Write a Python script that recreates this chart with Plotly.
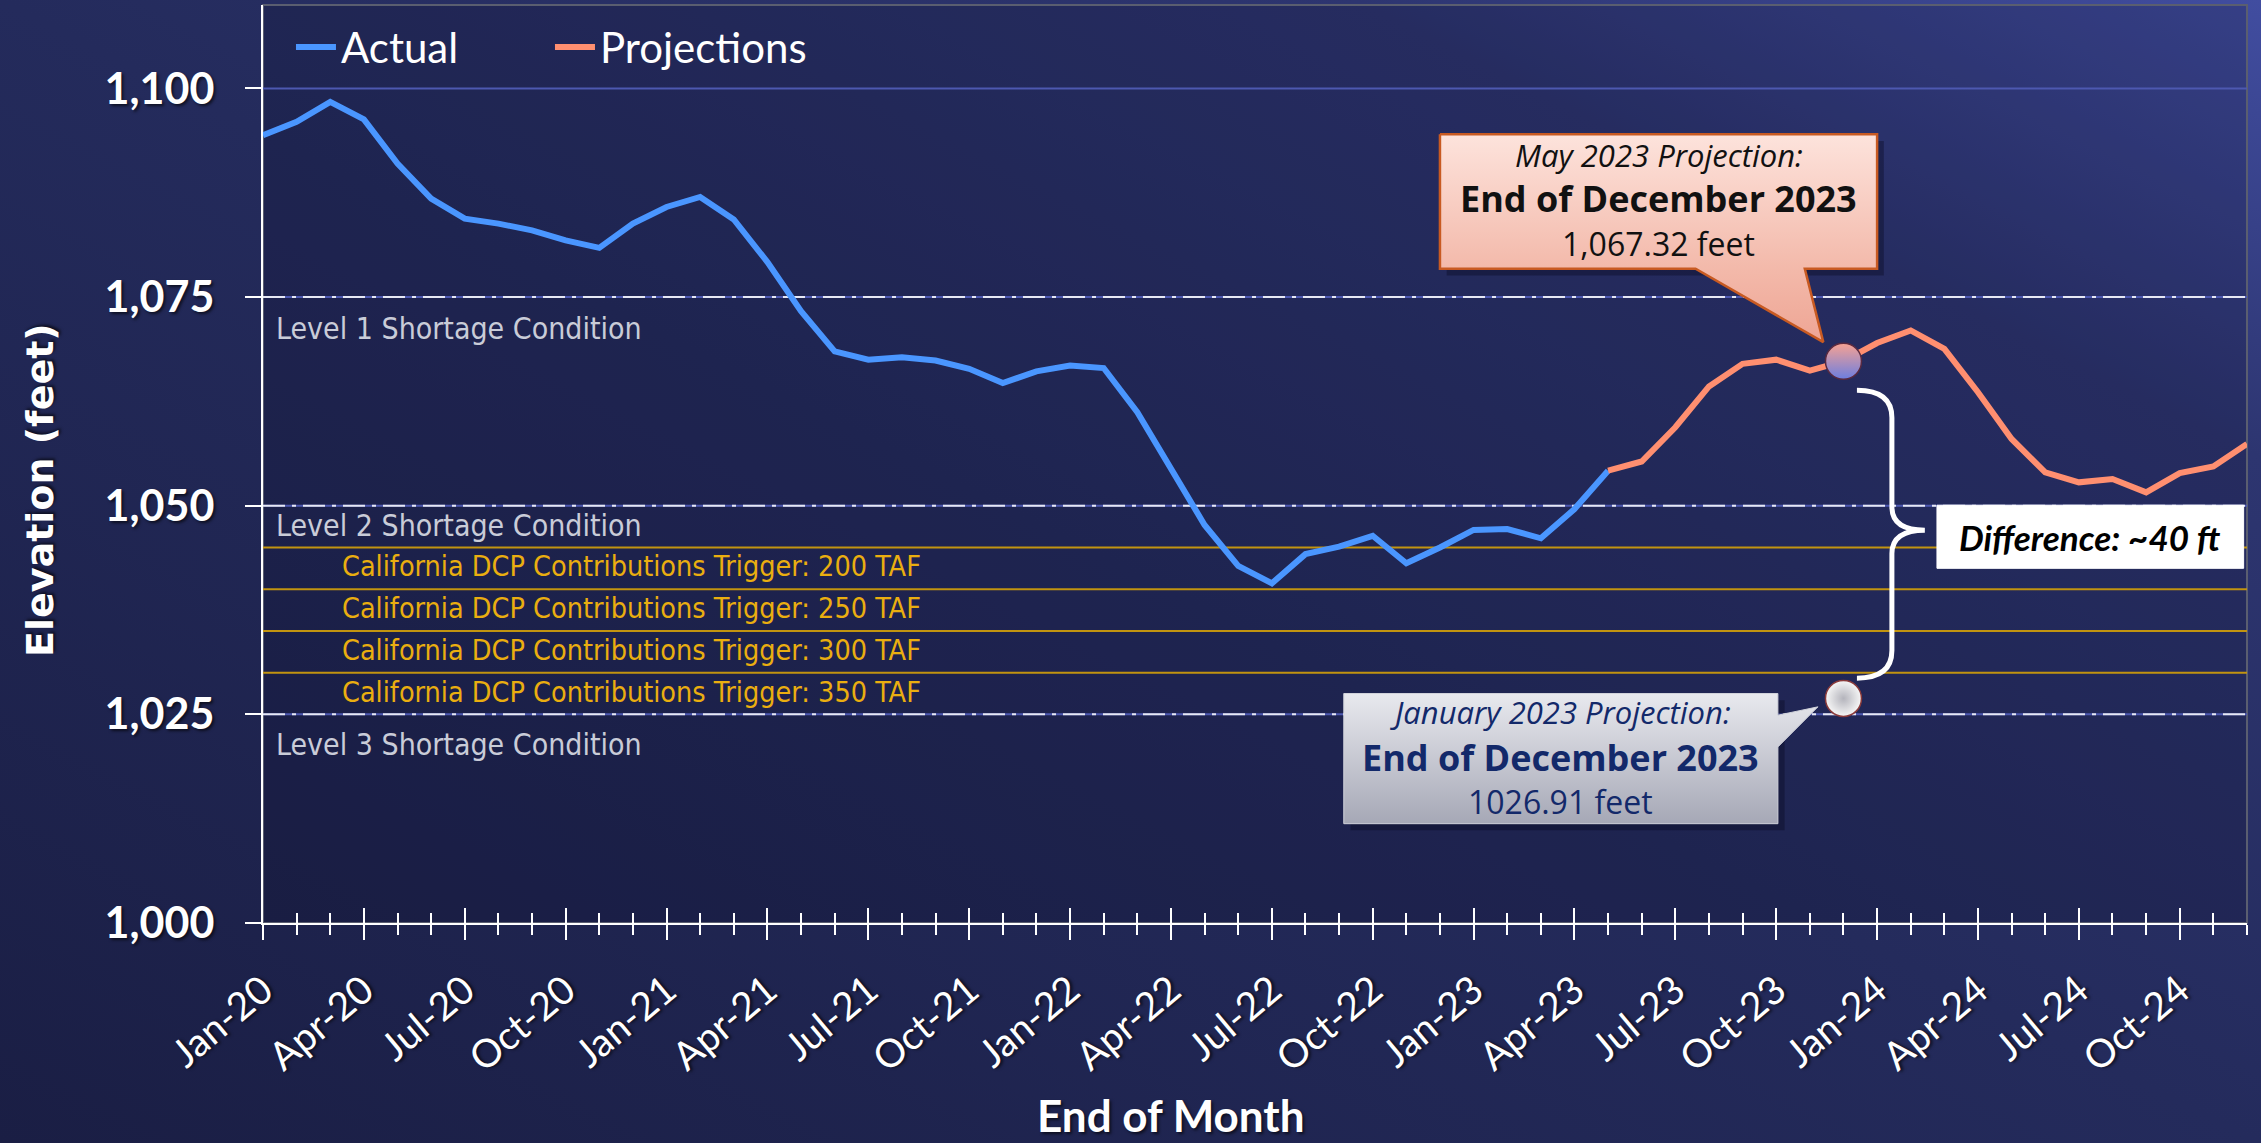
import base64
import pandas as pd
import plotly.graph_objects as go

# ---------------- data ----------------
months = list(pd.date_range("2020-01-01", periods=60, freq="MS").strftime("%b-%y"))
x_idx = list(range(len(months)))

actual = [1094.4, 1096.0, 1098.4, 1096.3, 1091.0, 1086.8, 1084.4, 1083.8, 1083.0, 1081.8,
          1080.9, 1083.8, 1085.8, 1087.0, 1084.3, 1079.2, 1073.3, 1068.5, 1067.5, 1067.8,
          1067.4, 1066.4, 1064.7, 1066.1, 1066.8, 1066.5, 1061.2, 1054.6, 1047.7, 1042.8,
          1040.7, 1044.2, 1045.1, 1046.4, 1043.1, 1045.0, 1047.1, 1047.2, 1046.1, 1049.6,
          1054.2]
proj_start = "May-23"
projections = [1054.2, 1055.3, 1059.4, 1064.3, 1067.0, 1067.5, 1066.2, 1067.32, 1069.5, 1071.0,
               1068.8, 1063.6, 1058.0, 1054.0, 1052.8, 1053.2, 1051.6, 1053.9, 1054.7, 1057.4]

callout_month = "Dec-23"
may_proj_value = 1067.32
jan_proj_value = 1026.91

grid_levels = [1025, 1050, 1075, 1100]
shortage_levels = [1075, 1050, 1025]
shortage_labels = ["Level 1 Shortage Condition", "Level 2 Shortage Condition", "Level 3 Shortage Condition"]
shortage_label_y = [1071.2, 1047.6, 1021.4]
dcp_levels = [1045, 1040, 1035, 1030]
dcp_labels = ["California DCP Contributions Trigger: 200 TAF",
              "California DCP Contributions Trigger: 250 TAF",
              "California DCP Contributions Trigger: 300 TAF",
              "California DCP Contributions Trigger: 350 TAF"]

may_callout_lines = ["May 2023 Projection:", "End of December 2023", "1,067.32 feet"]
jan_callout_lines = ["January 2023 Projection:", "End of December 2023", "1026.91 feet"]

tick_idx = x_idx[::3]
tick_text = months[::3]

# ---------------- layout geometry ----------------
W, H = 2261, 1143
ML, MR, MT, MB = 263, 14, 5, 220
PW, PH = W - ML - MR, H - MT - MB

fig = go.Figure()

# background gradient (svg)
svg = (f"<svg xmlns='http://www.w3.org/2000/svg' width='{W}' height='{H}' preserveAspectRatio='none'>"
       "<defs><linearGradient id='g' x1='0' y1='1' x2='1' y2='0'>"
       "<stop offset='0' stop-color='#1a1e44'/>"
       "<stop offset='0.5' stop-color='#242b5c'/>"
       "<stop offset='0.8' stop-color='#2d3570'/>"
       "<stop offset='1' stop-color='#414da0'/>"
       "</linearGradient></defs><rect width='100%' height='100%' fill='url(#g)'/></svg>")
bg_uri = "data:image/svg+xml;base64," + base64.b64encode(svg.encode()).decode()

# ---------------- traces ----------------
i0 = months.index(proj_start)
fig.add_trace(go.Scatter(x=x_idx[:len(actual)], y=actual, mode="lines", name="Actual",
                         line=dict(color="#4a96ff", width=6), hoverinfo="skip"))
fig.add_trace(go.Scatter(x=x_idx[i0:i0 + len(projections)], y=projections, mode="lines",
                         name="Projections", line=dict(color="#ff8f70", width=6), hoverinfo="skip"))

# inside-tick helper axis trace
fig.add_trace(go.Scatter(x=[None], y=[None], xaxis="x2", showlegend=False, hoverinfo="skip"))

# callout boxes (annotation decoration)
b1 = dict(x0=35.0, x1=48.0, yt=1094.5, yb=1078.4, pl=42.6, pr=45.85, tx=46.4, ty=1069.6)
b2 = dict(x0=32.14, x1=45.05, yt=1027.5, yb=1011.9, pt=1024.9, pb=1021.1, tx=46.24, ty=1025.9)

for b in (b1, b2):
    fig.add_trace(go.Scatter(
        x=[b["x0"] + 0.2, b["x1"] + 0.2, b["x1"] + 0.2, b["x0"] + 0.2, b["x0"] + 0.2],
        y=[b["yt"] - 0.8, b["yt"] - 0.8, b["yb"] - 0.8, b["yb"] - 0.8, b["yt"] - 0.8],
        fill="toself", fillcolor="rgba(5,6,25,0.35)", line=dict(width=0), mode="lines",
        showlegend=False, hoverinfo="skip"))

fig.add_trace(go.Scatter(
    x=[b1["x0"], b1["x1"], b1["x1"], b1["pr"], b1["tx"], b1["pl"], b1["x0"], b1["x0"]],
    y=[b1["yt"], b1["yt"], b1["yb"], b1["yb"], b1["ty"], b1["yb"], b1["yb"], b1["yt"]],
    fill="toself", mode="lines", line=dict(color="#c85a22", width=2.5),
    fillgradient=dict(type="vertical", colorscale=[[0, "#eea594"], [0.35, "#f3b9aa"], [1, "#fde3dc"]]),
    showlegend=False, hoverinfo="skip"))
fig.add_trace(go.Scatter(
    x=[b2["x0"], b2["x1"], b2["x1"], b2["tx"], b2["x1"], b2["x1"], b2["x0"], b2["x0"]],
    y=[b2["yt"], b2["yt"], b2["pt"], b2["ty"], b2["pb"], b2["yb"], b2["yb"], b2["yt"]],
    fill="toself", mode="lines", line=dict(color="#d0d2da", width=1),
    fillgradient=dict(type="vertical", colorscale=[[0, "#a6a8b6"], [1, "#e8e9ee"]]),
    showlegend=False, hoverinfo="skip"))

# Dec-23 spheres
xc = months.index(callout_month)
fig.add_trace(go.Scatter(x=[xc], y=[may_proj_value], mode="markers", showlegend=False, hoverinfo="skip",
                         marker=dict(size=36, color="#f8a292",
                                     gradient=dict(type="vertical", color="#6c7ee0"),
                                     line=dict(color="#5a2a40", width=1.5))))
fig.add_trace(go.Scatter(x=[xc], y=[jan_proj_value], mode="markers", showlegend=False, hoverinfo="skip",
                         marker=dict(size=36, color="#f6f6f6",
                                     gradient=dict(type="radial", color="#b4b4bc"),
                                     line=dict(color="#8a3a3a", width=1.5))))

# ---------------- shapes ----------------
shapes = []
shapes.append(dict(type="rect", xref="paper", yref="paper", x0=0, x1=1, y0=0, y1=1, layer="below",
                   fillcolor="rgba(8,10,36,0.20)", line=dict(color="#5a5e70", width=2)))
for lv in grid_levels:
    shapes.append(dict(type="line", xref="x domain", yref="y", x0=0, x1=1, y0=lv, y1=lv,
                       layer="below", line=dict(color="#4d58b0", width=2)))
for lv in shortage_levels:
    shapes.append(dict(type="line", xref="x domain", yref="y", x0=0, x1=1, y0=lv, y1=lv,
                       layer="below", line=dict(color="#e6e8f4", width=2, dash="22px,7px,4px,7px")))
for lv in dcp_levels:
    shapes.append(dict(type="line", xref="x domain", yref="y", x0=0, x1=1, y0=lv, y1=lv,
                       layer="below", line=dict(color="#c29410", width=2)))
# curly brace
bx0, bxm, bxt = 47.4, 48.44, 49.42
byt, bym, byb = 1063.83, 1047.07, 1029.34
brace = (f"M {bx0},{byt} Q {bxm},{byt} {bxm},{byt-3.3} L {bxm},{bym+2.8} "
         f"Q {bxm},{bym} {bxt},{bym} Q {bxm},{bym} {bxm},{bym-2.8} L {bxm},{byb+3.3} "
         f"Q {bxm},{byb} {bx0},{byb}")
shapes.append(dict(type="path", xref="x", yref="y", path=brace, layer="above",
                   line=dict(color="white", width=5)))
# difference box
shapes.append(dict(type="rect", xref="x", yref="y", x0=49.78, x1=58.9, y0=1042.5, y1=1050.06,
                   layer="above", fillcolor="white", line=dict(color="white", width=1)))

# ---------------- annotations ----------------
ann = []
narrow = "Liberation Sans Narrow, Arial Narrow, DejaVu Sans Condensed, Liberation Sans"
for lab, yy in zip(shortage_labels, shortage_label_y):
    ann.append(dict(x=0.33, y=yy, xref="x", yref="y", text=lab, showarrow=False, xanchor="left",
                    yanchor="middle", font=dict(family=narrow, size=30, color="#c9ccd8")))
for lv, lab in zip(dcp_levels, dcp_labels):
    ann.append(dict(x=2.29, y=lv, xref="x", yref="y", text=lab, showarrow=False, xanchor="left",
                    yanchor="top", yshift=-1, font=dict(family=narrow, size=28.5, color="#eaae10")))

seg = "Open Sans, Noto Sans, sans-serif"
line_styles = [dict(size=31, style="italic", weight="normal"),
               dict(size=36, style="normal", weight="bold"),
               dict(size=32, style="normal", weight="normal")]
may_line_y = [1092.0, 1086.76, 1081.37]
jan_line_y = [1025.3, 1019.89, 1014.5]
for txt, yy, st in zip(may_callout_lines, may_line_y, line_styles):
    ann.append(dict(x=(b1["x0"] + b1["x1"]) / 2, y=yy, xref="x", yref="y", showarrow=False,
                    text=txt, borderpad=0,
                    font=dict(family=seg, color="#111111", **st)))
for txt, yy, st in zip(jan_callout_lines, jan_line_y, line_styles):
    ann.append(dict(x=(b2["x0"] + b2["x1"]) / 2, y=yy, xref="x", yref="y", showarrow=False,
                    text=txt, borderpad=0,
                    font=dict(family=seg, color="#13296a", **st)))
ann.append(dict(x=(49.78 + 58.9) / 2, y=1046.3, xref="x", yref="y", showarrow=False,
                text="<b><i>Difference: ~40 ft</i></b>",
                font=dict(family="Lato, Open Sans, sans-serif", size=35, color="black")))
# axis titles
ann.append(dict(x=(40 - ML) / PW, y=(H - MB - 490) / PH, xref="paper", yref="paper", showarrow=False,
                xanchor="center", yanchor="middle",
                text="<b>Elevation (feet)</b>", textangle=-90,
                font=dict(family="DejaVu Sans, Verdana, sans-serif", size=38, color="white",
                          shadow="2px 2px 3px rgba(0,0,0,0.6)")))
ann.append(dict(x=(1171 - ML) / PW, y=-MB / PH, xref="paper", yref="paper",
                showarrow=False, xanchor="center", yanchor="bottom", text="<b>End of Month</b>",
                font=dict(family="Lato, sans-serif", size=44, color="white",
                          shadow="2px 2px 3px rgba(0,0,0,0.6)")))

# ---------------- layout ----------------
tick_font = dict(family="Lato, sans-serif", size=39, color="white", shadow="2px 2px 3px rgba(0,0,0,0.6)")
fig.update_layout(
    width=W, height=H, autosize=False,
    margin=dict(l=ML, r=MR, t=MT, b=MB, pad=0),
    paper_bgcolor="#232a5a", plot_bgcolor="rgba(0,0,0,0)",
    images=[dict(source=bg_uri, xref="paper", yref="paper", x=-ML / PW, y=1 + MT / PH,
                 sizex=W / PW, sizey=H / PH, sizing="stretch", layer="below",
                 xanchor="left", yanchor="top")],
    shapes=shapes, annotations=ann,
    showlegend=True,
    legend=dict(orientation="h", x=0.0141, y=0.991, xanchor="left", yanchor="top",
                bgcolor="rgba(0,0,0,0)", font=dict(family="Lato, sans-serif", size=42, color="white"),
                itemwidth=40, entrywidth=204, tracegroupgap=0),
    xaxis=dict(range=[0, len(months) - 1], tickmode="array", tickvals=tick_idx, ticktext=tick_text,
               tickangle=-40, tickfont=tick_font, ticks="outside", ticklen=15, tickwidth=2,
               tickcolor="white", showline=True, linecolor="white", linewidth=2, showgrid=False,
               zeroline=False, ticklabelstandoff=12,
               minor=dict(dtick=1, tick0=0, ticks="outside", ticklen=10, tickwidth=2, tickcolor="white")),
    xaxis2=dict(range=[0, len(months) - 1], overlaying="x", anchor="y", side="bottom",
                tickmode="array", tickvals=tick_idx, ticks="inside", ticklen=15, tickwidth=2,
                tickcolor="white", showticklabels=False, showgrid=False, showline=False, zeroline=False,
                minor=dict(dtick=1, tick0=0, ticks="inside", ticklen=10, tickwidth=2, tickcolor="white")),
    yaxis=dict(range=[1000, 1110], tickvals=[1000, 1025, 1050, 1075, 1100], tickformat=",d",
               tickfont=dict(family="Lato, sans-serif", size=43, color="white", weight="bold",
                             shadow="2px 2px 3px rgba(0,0,0,0.6)"),
               ticks="outside", ticklen=16, tickwidth=2, tickcolor="white",
               showline=True, linecolor="white", linewidth=2, showgrid=False,
               zeroline=False, ticklabelstandoff=22),
)

fig.write_html("out.html", config={"displayModeBar": False},
               post_script="document.body.style.margin='0';document.body.style.overflow='hidden';")
